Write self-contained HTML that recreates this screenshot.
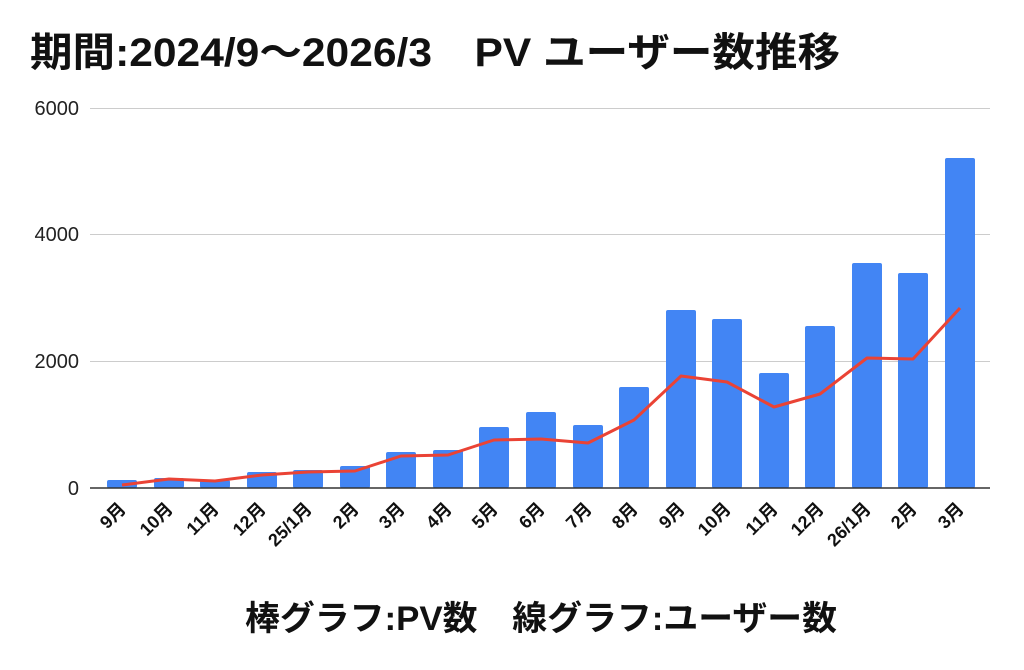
<!DOCTYPE html>
<html><head><meta charset="utf-8"><style>
body{margin:0;background:#fff;width:1024px;height:670px;overflow:hidden}
svg{display:block}
text{font-family:"Liberation Sans","Noto Sans CJK JP",sans-serif}
</style></head><body>
<svg width="1024" height="670" xmlns="http://www.w3.org/2000/svg">
<text x="30" y="66" font-size="40" font-weight="bold" fill="#111" textLength="810" lengthAdjust="spacingAndGlyphs">期間:2024/9～2026/3　PV  ユーザー数推移</text>
<g stroke="#ccc" stroke-width="1">
<line x1="90" y1="108.5" x2="990" y2="108.5"/>
<line x1="90" y1="234.5" x2="990" y2="234.5"/>
<line x1="90" y1="361.5" x2="990" y2="361.5"/>
</g>
<g font-size="20" fill="#222" text-anchor="end">
<text x="79" y="115">6000</text>
<text x="79" y="241">4000</text>
<text x="79" y="368">2000</text>
<text x="79" y="495">0</text>
</g>
<g fill="#4285f4">
<rect x="107" y="480" width="30" height="8" rx="2"/>
<rect x="154" y="478" width="30" height="10" rx="2"/>
<rect x="200" y="480" width="30" height="8" rx="2"/>
<rect x="247" y="472" width="30" height="16" rx="2"/>
<rect x="293" y="470" width="30" height="18" rx="2"/>
<rect x="340" y="466" width="30" height="22" rx="2"/>
<rect x="386" y="452" width="30" height="36" rx="2"/>
<rect x="433" y="450" width="30" height="38" rx="2"/>
<rect x="479" y="427" width="30" height="61" rx="2"/>
<rect x="526" y="412" width="30" height="76" rx="2"/>
<rect x="573" y="425" width="30" height="63" rx="2"/>
<rect x="619" y="387" width="30" height="101" rx="2"/>
<rect x="666" y="310" width="30" height="178" rx="2"/>
<rect x="712" y="319" width="30" height="169" rx="2"/>
<rect x="759" y="373" width="30" height="115" rx="2"/>
<rect x="805" y="326" width="30" height="162" rx="2"/>
<rect x="852" y="263" width="30" height="225" rx="2"/>
<rect x="898" y="273" width="30" height="215" rx="2"/>
<rect x="945" y="158" width="30" height="330" rx="2"/>
</g>
<line x1="90" y1="488" x2="990" y2="488" stroke="#333" stroke-width="1.5"/>
<polyline fill="none" stroke="#ea4335" stroke-width="3" stroke-linejoin="round" points="122,485 169,479 215,481 262,475 308,472 355,471 401,456 448,455 494,440 541,439 588,443 634,420 681,376 727,382 774,407 820,394 867,358 913,359 960,308"/>
<g font-size="18" font-weight="bold" fill="#111" text-anchor="end">
<text transform="translate(127,510) rotate(-45)">9月</text>
<text transform="translate(174,510) rotate(-45)">10月</text>
<text transform="translate(220,510) rotate(-45)">11月</text>
<text transform="translate(267,510) rotate(-45)">12月</text>
<text transform="translate(313,510) rotate(-45)">25/1月</text>
<text transform="translate(360,510) rotate(-45)">2月</text>
<text transform="translate(406,510) rotate(-45)">3月</text>
<text transform="translate(453,510) rotate(-45)">4月</text>
<text transform="translate(499,510) rotate(-45)">5月</text>
<text transform="translate(546,510) rotate(-45)">6月</text>
<text transform="translate(593,510) rotate(-45)">7月</text>
<text transform="translate(639,510) rotate(-45)">8月</text>
<text transform="translate(686,510) rotate(-45)">9月</text>
<text transform="translate(732,510) rotate(-45)">10月</text>
<text transform="translate(779,510) rotate(-45)">11月</text>
<text transform="translate(825,510) rotate(-45)">12月</text>
<text transform="translate(872,510) rotate(-45)">26/1月</text>
<text transform="translate(918,510) rotate(-45)">2月</text>
<text transform="translate(965,510) rotate(-45)">3月</text>
</g>
<text x="245" y="630" font-size="34" font-weight="bold" fill="#111" textLength="592" lengthAdjust="spacingAndGlyphs">棒グラフ:PV数　線グラフ:ユーザー数</text>
</svg>
</body></html>
